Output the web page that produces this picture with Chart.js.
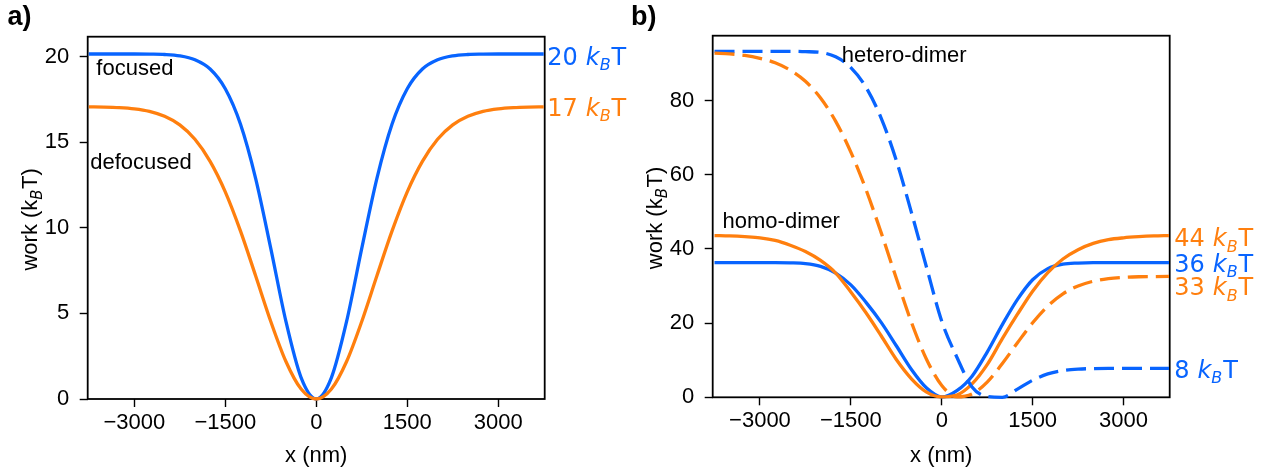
<!DOCTYPE html>
<html>
<head>
<meta charset="utf-8">
<script src="https://cdn.jsdelivr.net/npm/chart.js@4.4.1/dist/chart.umd.min.js"></script>
<style>
html, body { margin: 0; padding: 0; background: #ffffff; }
#wrap { position: relative; width: 1273px; height: 473px; overflow: hidden; background: #ffffff; }
#boxA { position: absolute; left: 0; top: 0; width: 640px; height: 473px; }
#boxB { position: absolute; left: 625px; top: 0; width: 648px; height: 473px; }
canvas { display: block; }
</style>
</head>
<body>
<div id="wrap">
  <div id="boxA"><canvas id="cA" width="640" height="473"></canvas></div>
  <div id="boxB"><canvas id="cB" width="648" height="473"></canvas></div>
</div>
<script>
// ---------------- data ----------------
const xPositions = [-3750, -3500, -3250, -3000, -2750, -2500, -2250, -2000, -1750, -1500, -1250, -1000, -750, -500, -250, 0,
                    250, 500, 750, 1000, 1250, 1500, 1750, 2000, 2250, 2500, 2750, 3000, 3250, 3500, 3750];

// panel a
const focused = [20.15, 20.15, 20.15, 20.15, 20.14, 20.12, 20.04, 19.81, 19.27, 18.12, 16.06, 12.89, 8.80, 4.53, 1.25, 0,
                 1.25, 4.53, 8.80, 12.89, 16.06, 18.12, 19.27, 19.81, 20.04, 20.12, 20.14, 20.15, 20.15, 20.15, 20.15];
const defocused = [17.06, 17.05, 17.02, 16.95, 16.80, 16.51, 16.01, 15.17, 13.88, 12.10, 9.82, 7.20, 4.53, 2.19, 0.58, 0,
                   0.58, 2.19, 4.53, 7.20, 9.82, 12.10, 13.88, 15.17, 16.01, 16.51, 16.80, 16.95, 17.02, 17.05, 17.06];

// panel b
const homoBlue = [36.3, 36.3, 36.3, 36.3, 36.3, 36.25, 36.05, 35.3, 33.5, 30.3, 25.6, 20.2, 13.9, 7.5, 2.5, 0.1,
                  1.8, 5.7, 12.2, 19.6, 26.4, 31.7, 34.7, 35.9, 36.2, 36.3, 36.3, 36.3, 36.3, 36.3, 36.3];
const homoOrange = [43.6, 43.5, 43.3, 43.0, 42.3, 41.0, 39.3, 36.9, 33.5, 28.4, 22.8, 16.6, 10.2, 5.0, 1.4, 0.1,
                    0.6, 3.6, 8.8, 15.8, 22.4, 28.6, 33.6, 37.3, 39.8, 41.5, 42.5, 43.0, 43.3, 43.5, 43.6];
const heteroBlue = [93.3, 93.3, 93.3, 93.3, 93.3, 93.3, 93.2, 93.0, 91.8, 88.9, 83.6, 75.3, 63.9, 49.8, 35.0, 20.5,
                    10.8, 2.8, 0.2, 0.0, 2.2, 4.6, 6.3, 7.2, 7.6, 7.75, 7.8, 7.8, 7.8, 7.8, 7.8];
const heteroOrange = [92.8, 92.6, 92.2, 91.4, 90.2, 88.2, 85.2, 80.7, 74.4, 66.1, 56.0, 44.4, 32.1, 20.2, 10.2, 3.2,
                      0.1, 0.9, 4.1, 9.1, 14.7, 20.1, 24.6, 27.9, 30.0, 31.3, 32.0, 32.35, 32.5, 32.55, 32.6];

// ticks
const xTicks = [-3000, -1500, 0, 1500, 3000];
const yTicksA = [0, 5, 10, 15, 20];
const yTicksB = [0, 20, 40, 60, 80];

// end labels (text, value where the label sits)
const endLabelsA = [{ num: '20', at: 20.02, series: 'blue' }, { num: '17', at: 17.05, series: 'orange' }];
const endLabelsB = [{ num: '44', at: 43.1, series: 'orange' }, { num: '36', at: 36.25, series: 'blue' },
                    { num: '33', at: 29.9, series: 'orange' }, { num: '8', at: 7.57, series: 'blue' }];

// curve annotations (text, x, y in data units)
const notesA = [{ text: 'focused', x: -3625, y: 18.94 }, { text: 'defocused', x: -3727, y: 13.43 }];
const notesB = [{ text: 'hetero-dimer', x: -1649, y: 90.3 }, { text: 'homo-dimer', x: -3617, y: 45.56 }];

// ---------------- styling ----------------
const BLUE = 'rgb(8,100,255)';
const ORANGE = 'rgb(255,127,14)';
const COLORS = { blue: BLUE, orange: ORANGE };
const FONT = "'Liberation Sans', Arial, Helvetica, sans-serif";
const MATH = "'DejaVu Sans', sans-serif";
const FS = 22;
const LFS = 24;

function pts(ys) { return xPositions.map((x, i) => ({ x: x, y: ys[i] })); }
function fmtTick(v) { return v < 0 ? '\u2212' + Math.abs(v) : String(v); }

function segsWidth(ctx, segs) {
  let w = 0;
  for (const s of segs) { ctx.font = s.font; w += (s.dx || 0) + ctx.measureText(s.t).width; }
  return w;
}
function drawSegs(ctx, segs, x, y) {
  let cx = x;
  for (const s of segs) {
    ctx.font = s.font;
    cx += (s.dx || 0);
    ctx.fillText(s.t, cx, y + (s.dy || 0));
    cx += ctx.measureText(s.t).width;
  }
  return cx;
}

const decoPlugin = {
  id: 'deco',
  beforeDatasetsDraw(chart, args, o) {
    const a = chart.chartArea, ctx = chart.ctx;
    ctx.save();
    ctx.strokeStyle = '#000';
    ctx.lineWidth = 1.8;
    ctx.strokeRect(a.left, a.top, a.right - a.left, a.bottom - a.top);
    ctx.restore();
  },
  afterDraw(chart, args, o) {
    const a = chart.chartArea, ctx = chart.ctx;
    const xs = chart.scales.x, ys = chart.scales.y;
    ctx.save();
    ctx.fillStyle = '#000';
    ctx.textBaseline = 'alphabetic';
    ctx.textAlign = 'left';
    // panel letter
    ctx.font = `bold 27px ${FONT}`;
    ctx.fillText(o.letter, o.letterX, 25);
    // y title with subscript
    const ySegs = [
      { t: 'work (k', font: `${FS}px ${FONT}` },
      { t: 'B', font: `italic 15px ${MATH}`, dy: 5 },
      { t: 'T)', font: `${FS}px ${FONT}`, dx: 0.5 }
    ];
    ctx.save();
    ctx.translate(a.left - 51, (a.top + a.bottom) / 2 + 1.5);
    ctx.rotate(-Math.PI / 2);
    const w = segsWidth(ctx, ySegs);
    drawSegs(ctx, ySegs, -w / 2, 0);
    ctx.restore();
    // annotations
    ctx.font = `${FS}px ${FONT}`;
    for (const n of o.notes) {
      ctx.fillText(n.text, xs.getPixelForValue(n.x), ys.getPixelForValue(n.y));
    }
    // end labels
    for (const L of o.endLabels) {
      ctx.fillStyle = COLORS[L.series];
      const segs = [
        { t: L.num, font: `${LFS}px ${MATH}` },
        { t: 'k', font: `italic ${LFS}px ${MATH}`, dx: 8 },
        { t: 'B', font: `italic 16px ${MATH}`, dy: 5.5 },
        { t: 'T', font: `${LFS}px ${MATH}`, dx: 1 }
      ];
      drawSegs(ctx, segs, a.right + o.labelOffset, ys.getPixelForValue(L.at) + 8.7);
    }
    ctx.restore();
  }
};

function makeChart(id, cfg) {
  const ctx = document.getElementById(id);
  return new Chart(ctx, {
    type: 'line',
    data: { datasets: cfg.datasets },
    plugins: [decoPlugin],
    options: {
      responsive: false,
      animation: false,
      devicePixelRatio: 1,
      events: [],
      layout: { padding: { left: 0, right: cfg.padRight, top: cfg.padTop, bottom: 0 } },
      elements: {
        point: { radius: 0, hoverRadius: 0 },
        line: { borderWidth: 3.3, cubicInterpolationMode: 'monotone', borderCapStyle: 'butt', borderJoinStyle: 'round', fill: false }
      },
      plugins: {
        legend: { display: false },
        tooltip: { enabled: false },
        deco: { letter: cfg.letter, letterX: cfg.letterX, notes: cfg.notes, endLabels: cfg.endLabels, labelOffset: cfg.labelOffset }
      },
      scales: {
        x: {
          type: 'linear',
          min: cfg.xMin, max: cfg.xMax,
          afterFit: s => { s.height = cfg.xHeight; },
          afterBuildTicks: s => { s.ticks = xTicks.map(v => ({ value: v })); },
          border: { display: false },
          grid: { drawOnChartArea: false, drawTicks: true, tickLength: 8, tickWidth: 1.4, tickColor: '#000' },
          ticks: { color: '#000', font: { family: FONT, size: FS }, padding: 2.6, maxRotation: 0, autoSkip: false, callback: fmtTick },
          title: { display: true, text: 'x (nm)', color: '#000', font: { family: FONT, size: FS }, padding: { top: 0, bottom: 3.4 } }
        },
        y: {
          type: 'linear',
          min: 0, max: cfg.yMax,
          afterFit: s => { s.width = 87.7; },
          afterBuildTicks: s => { s.ticks = cfg.yTicks.map(v => ({ value: v })); },
          border: { display: false },
          grid: { drawOnChartArea: false, drawTicks: true, tickLength: 8, tickWidth: 1.4, tickColor: '#000' },
          ticks: { color: '#000', font: { family: FONT, size: FS }, padding: 10.5, autoSkip: false, callback: fmtTick }
        }
      }
    }
  });
}

function ds(label, ys, color, dashed, order) {
  return {
    label: label, data: pts(ys), borderColor: color, backgroundColor: color,
    borderDash: dashed ? [20, 8] : [], order: order,
    clip: { left: 0, top: 0, right: 0, bottom: 2 }
  };
}

makeChart('cA', {
  datasets: [ds('focused', focused, BLUE, false, 2), ds('defocused', defocused, ORANGE, false, 1)],
  padRight: 95.3, padTop: 36.7, xHeight: 74,
  xMin: -3768, xMax: 3766, yMax: 21.16, yTicks: yTicksA,
  letter: 'a)', letterX: 7.5, notes: notesA, endLabels: endLabelsA, labelOffset: 2.5
});

makeChart('cB', {
  datasets: [
    ds('homo blue', homoBlue, BLUE, false, 4),
    ds('homo orange', homoOrange, ORANGE, false, 3),
    ds('hetero blue', heteroBlue, BLUE, true, 2),
    ds('hetero orange', heteroOrange, ORANGE, true, 1)
  ],
  padRight: 103.3, padTop: 35.7, xHeight: 75.7,
  xMin: -3780, xMax: 3762, yMax: 97.5, yTicks: yTicksB,
  letter: 'b)', letterX: 6, notes: notesB, endLabels: endLabelsB, labelOffset: 4.5
});
</script>
</body>
</html>
